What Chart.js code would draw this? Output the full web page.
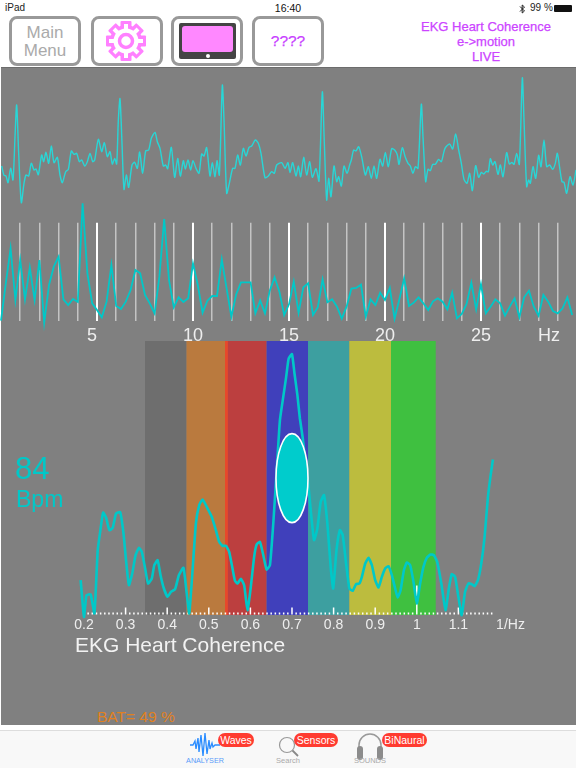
<!DOCTYPE html>
<html>
<head>
<meta charset="utf-8">
<title>EKG Heart Coherence</title>
<script src="https://cdn.jsdelivr.net/npm/chart.js@4"></script>
<style>
html, body { margin: 0; padding: 0; background: #fff; }
#page { position: relative; width: 576px; height: 768px; overflow: hidden; font-family: "Liberation Sans", sans-serif; }
#panel { position: absolute; left: 1px; top: 67px; width: 575px; height: 658px; background: #808080; border-top: 1px solid #6c6c6c; box-sizing: border-box; }
canvas { position: absolute; left: 0; }
.txt { position: absolute; white-space: nowrap; transform: translateY(-50%); line-height: 1; }
.mid { transform: translate(-50%, -50%); }
.med { -webkit-text-stroke: 0.25px currentColor; }
.btn { position: absolute; top: 16px; width: 72px; height: 50px; box-sizing: border-box; border: 3px solid #999; border-radius: 8px; background: #fff; }
.pill { position: absolute; top: 733px; height: 14px; line-height: 14px; border-radius: 7px; background: #ff3b30; color: #fff; font-size: 10.5px; text-align: center; }
#tabbar { position: absolute; left: 0; top: 730px; width: 576px; height: 38px; background: #f8f8f8; border-top: 1px solid #ddd; box-sizing: border-box; }
svg { position: absolute; overflow: visible; }
</style>
</head>
<body>
<div id="page">
  <div id="panel"></div>
  <canvas id="ekgChart" width="576" height="140" style="top:70px"></canvas>
  <canvas id="spectrumChart" width="576" height="150" style="top:200px"></canvas>
  <canvas id="coherenceChart" width="576" height="300" style="top:340px"></canvas>

  <span class="txt" style="left:5px;top:8px;font-size:10px;color:#222">iPad</span>
  <span class="txt mid" style="left:288px;top:8px;font-size:10.5px;color:#111">16:40</span>
  <svg style="left:519px;top:4px" width="7" height="10" viewBox="0 0 7 10"><path d="M1 2.5 L5.5 7 L3.2 9 V1 L5.5 3 L1 7.5" fill="none" stroke="#222" stroke-width="1"/></svg>
  <span class="txt" style="left:530px;top:8px;font-size:10px;color:#222">99 %</span>
  <div style="position:absolute;left:554px;top:5px;width:18px;height:7px;background:#111;border-radius:1px"></div>

  <div class="btn" style="left:9px"></div>
  <span class="txt mid" style="left:45px;top:32px;font-size:17px;color:#aaa">Main</span>
  <span class="txt mid" style="left:45px;top:50px;font-size:17px;color:#aaa">Menu</span>
  <div class="btn" style="left:90.5px"></div>
  <svg style="left:126px;top:41px" width="1" height="1">
    <g fill="#ff80ff">
      <rect x="-5.5" y="-20" width="11" height="40" rx="1"/><rect x="-5.5" y="-20" width="11" height="40" rx="1" transform="rotate(45)"/>
      <rect x="-5.5" y="-20" width="11" height="40" rx="1" transform="rotate(90)"/><rect x="-5.5" y="-20" width="11" height="40" rx="1" transform="rotate(135)"/>
      <circle r="16"/>
    </g>
    <g fill="#fff">
      <rect x="-2" y="-17" width="4" height="34"/><rect x="-2" y="-17" width="4" height="34" transform="rotate(45)"/>
      <rect x="-2" y="-17" width="4" height="34" transform="rotate(90)"/><rect x="-2" y="-17" width="4" height="34" transform="rotate(135)"/>
      <circle r="12.5"/>
    </g>
    <circle r="6.5" fill="#fff" stroke="#ff80ff" stroke-width="3.5"/>
  </svg>
  <div class="btn" style="left:171px"></div>
  <div style="position:absolute;left:179px;top:23px;width:57px;height:36px;background:#444;border-radius:2px"></div>
  <div style="position:absolute;left:182px;top:26px;width:51px;height:26px;background:#ff88ff;border-radius:3px"></div>
  <div style="position:absolute;left:205.5px;top:53.5px;width:4px;height:4px;background:#fff;border-radius:50%"></div>
  <div class="btn" style="left:252px"></div>
  <span class="txt mid med" style="left:288px;top:41px;font-size:15.5px;color:#c840ff">????</span>

  <span class="txt mid med" style="left:486px;top:26px;font-size:13px;color:#cc44ff">EKG Heart Coherence</span>
  <span class="txt mid med" style="left:486px;top:41px;font-size:13px;color:#cc44ff">e-&gt;motion</span>
  <span class="txt mid med" style="left:486px;top:56px;font-size:13px;color:#cc44ff">LIVE</span>

  <span class="txt mid" style="left:549px;top:335px;font-size:18px;color:#eee">Hz</span>
  <span class="txt mid" style="left:510.5px;top:624px;font-size:14px;color:#eee">1/Hz</span>
  <span class="txt" style="left:15px;top:468px;font-size:31px;color:#00c8c8">84</span>
  <span class="txt" style="left:16px;top:499px;font-size:23px;color:#00c8c8">Bpm</span>
  <span class="txt" style="left:75px;top:644px;font-size:21px;color:#f2f2f2">EKG Heart Coherence</span>
  <span class="txt" style="left:97px;top:717px;font-size:15.5px;color:#e08020">BAT= 49 %</span>

  <div id="tabbar"></div>
  <svg style="left:190px;top:732px" width="30" height="26" viewBox="0 0 30 26"><polyline points="0,13 3,13 5,9 6,17 8,6 9,20 11,3 13,24 15,1 17,22 19,8 20,17 22,11 23,15 25,13 30,13" fill="none" stroke="#2a8cff" stroke-width="1.3"/></svg>
  <div class="pill" style="left:218px;width:36px">Waves</div>
  <span class="txt mid" style="left:205px;top:761px;font-size:7.2px;color:#5a9cf8">ANALYSER</span>
  <svg style="left:277px;top:735px" width="22" height="24"><circle cx="10" cy="10" r="7.5" fill="none" stroke="#999" stroke-width="1.2"/><line x1="15.5" y1="15.5" x2="21" y2="21" stroke="#888" stroke-width="1.8"/></svg>
  <div class="pill" style="left:294px;width:44px">Sensors</div>
  <span class="txt mid" style="left:288px;top:761px;font-size:7.5px;color:#aaa">Search</span>
  <svg style="left:356px;top:733px" width="28" height="28"><path d="M3 15 V12 A11 11 0 0 1 25 12 V15" fill="none" stroke="#999" stroke-width="1.5"/><rect x="1" y="13" width="6" height="14" rx="3" fill="#8c8c8c"/><rect x="21" y="13" width="6" height="14" rx="3" fill="#8c8c8c"/></svg>
  <div class="pill" style="left:382px;width:45px">BiNaural</div>
  <span class="txt mid" style="left:370px;top:761px;font-size:7.5px;color:#aaa">SOUNDS</span>
</div>

<script>
// EKG trace, sample number / amplitude
const ekgSamples = [5,12,18,24,32,39,45,50,56,64,72,78,86,94,102,108,115,125,131,138,146,154,162,172,180,187,197,205,214,222,230,238,245,254,262,270,278,284,295,305,313,322,330,337,344,350,355,360,366,372,379,386,396,404,412,419,428,437,446,454,465,472,480,490,497,503,514,524,533,541,550,556,564,572,579,588,597,605,612,620,630,637,645,651,658,667,672,680,688,698,705,713,721,730,738,747,755,766,775,783,795,805,815,823,830,845,855,864,
  870,878,888,895,902,911,920,929,937,948,957,967,973,980,986,993,1002,1010,1016,1024,1032,1041,1049,1054,1061,1068,1076,1086,1096,1105,1114,1122,1130,1140,1148,1156,1165,1175,1184,1192,1197,1207,1216,1224,1231,1239,1246,1254,1264,1269,1277,1284,1291,1298,1306,1316,1324,1335,1349,1358,1367,1376,1384,1392,1401,1409,1417,1427,1436,1444,1451,1459,1465,1471,1478,1485,1494,1501,1509,1520,1528,1536,1542,1550,1558,1567,1572,1580,1586,1591,1599,1607,1616,1623,1632,1640,1649,1658,1666,1672,1680,1686,1692,1700,1710,1719,1728];
const ekgValues = [132,104,102,82,125,90,220,315,170,22,80,105,102,140,120,123,106,165,145,173,140,192,142,158,105,82,115,122,177,167,170,145,150,132,145,170,145,150,212,175,202,160,175,138,155,138,270,334,200,62,105,68,135,143,125,174,110,177,180,215,233,205,185,132,135,124,188,98,155,102,148,123,150,120,148,125,110,168,162,187,102,142,100,148,105,374,270,50,80,125,125,165,135,185,162,188,192,210,200,170,97,102,115,110,135,142,125,142,
  112,142,102,132,100,158,105,145,98,124,87,354,200,30,95,40,132,85,100,72,132,110,135,150,180,177,190,155,105,130,95,132,95,152,132,173,130,184,180,165,137,187,158,140,132,110,130,125,317,220,85,122,118,137,137,152,145,185,198,183,228,180,140,92,80,110,58,133,98,113,108,116,115,154,135,145,107,135,100,172,138,143,137,170,137,396,270,70,90,80,130,95,164,130,210,130,135,122,140,170,120,85,83,50,100,75,120];

// Spectrum, one value every 0.25 Hz
const spectrumFreqs = [0,0.25,0.5,0.75,1,1.25,1.5,1.75,2,2.25,2.5,2.75,3,3.25,3.5,3.75,4,4.25,4.5,4.75,5,5.25,5.5,5.75,6,6.25,6.5,6.75,7,7.25,7.5,7.75,8,8.25,8.5,8.75,9,9.25,9.5,9.75,10,10.25,10.5,10.75,11,11.25,11.5,11.75,12,12.25,12.5,12.75,13,13.25,13.5,13.75,14,14.25,14.5,14.75,15,15.25,15.5,15.75,16,16.25,16.5,16.75,17,17.25,17.5,17.75,18,18.25,18.5,18.75,19,19.25,19.5,19.75,20,20.25,20.5,20.75,21,21.25,21.5,21.75,22,22.25,22.5,22.75,23,23.25,23.5,23.75,24,24.25,24.5,24.75,25,25.25,25.5,25.75,26,26.25,26.5,26.75,27,27.25,27.5,27.75,28,28.25,28.5,28.75,29,29.25,29.5,29.75];
const spectrumValues = [2,114,219,64,184,66,161,64,184,-4,109,164,194,66,49,67,58,354,144,54,34,12,59,169,46,37,59,94,154,144,79,54,24,134,307,124,42,72,58,69,174,109,26,62,76,76,186,99,14,81,117,117,117,24,62,24,92,132,89,19,51,119,26,102,114,19,42,126,57,66,44,8,44,98,100,110,14,66,49,86,64,100,8,66,129,46,56,72,54,34,60,69,59,36,86,9,22,52,116,36,112,24,44,66,54,17,44,69,12,72,92,44,17,79,59,31,24,39,72,19];
const spectrumTicks = [1,2,3,4,5,6,7,8,9,10,11,12,13,14,15,16,17,18,19,20,21,22,23,24,25,26,27,28,29];

// Coherence curve
const coherenceFreqs = [0.192,0.2,0.206,0.216,0.225,0.233,0.24,0.246,0.253,0.261,0.269,0.277,0.287,0.295,0.301,0.308,0.316,0.324,0.332,0.339,0.347,0.354,0.363,0.369,0.377,0.384,0.392,0.401,0.409,0.419,0.428,0.439,0.447,0.453,0.461,0.469,0.477,0.485,0.495,0.507,0.517,0.525,0.533,0.541,0.549,0.557,0.563,0.569,0.577,0.585,0.593,0.601,0.609,0.615,0.623,0.631,0.639,0.647,0.655,0.663,0.671,0.679,0.686,0.692,0.7,0.706,0.713,0.719,0.726,0.732,0.739,0.745,0.753,0.761,0.769,0.777,0.785,0.793,0.799,0.807,0.815,0.822,0.83,0.838,0.846,0.854,0.862,0.868,0.876,0.884,0.892,0.9,0.908,0.916,0.924,0.932,0.94,0.948,0.954,0.961,0.969,0.976,0.984,0.992,1,1.008,1.016,1.024,1.033,1.041,1.049,1.059,1.069,1.077,1.084,1.092,1.1,1.108,1.116,1.124,1.132,1.139,1.147,1.155,1.163,1.171,1.177,1.183];
const coherenceValues = [103,-7,58,60,3,193,258,306,291,253,260,303,307,243,163,88,123,178,200,188,138,93,108,148,163,118,78,53,68,76,118,140,63,3,133,273,328,345,323,293,253,218,206,206,188,138,101,93,107,88,13,83,173,210,218,178,135,148,273,428,583,653,713,768,781,723,658,588,528,458,393,313,223,258,338,358,273,143,78,193,253,238,153,78,71,91,93,113,153,170,148,103,81,113,138,145,118,78,51,73,133,156,148,98,33,93,143,170,180,178,158,93,13,78,121,113,53,-2,68,93,91,85,103,153,233,353,413,465];
const coherenceTicks = [0.2,0.3,0.4,0.5,0.6,0.7,0.8,0.9,1,1.1];
const bandStarts = [0.3466,0.4464,0.539,0.546,0.639,0.7385,0.8378,0.938];
const bandEnds = [0.4464,0.539,0.546,0.639,0.7385,0.8378,0.938,1.0455];
const bandColors = ['#6e6e6e','#ba7a3e','#e8482a','#bc3f3f','#4040bb','#3d9fa0','#bcbc3e','#3fc040'];
const markerFreq = 0.7;
const markerValue = 409;

const CYAN = '#00c8c8';
const FONT = 'Liberation Sans';

function xy(xs, ys) {
    return xs.map((x, i) => ({ x: x, y: ys[i] }));
}

// EKG strip on top
new Chart(document.getElementById('ekgChart'), {
    type: 'line',
    data: { datasets: [{ data: xy(ekgSamples, ekgValues), borderColor: '#28d6d6', borderWidth: 1.4, pointRadius: 0, tension: 0.25, clip: false }] },
    options: {
        responsive: false,
        animation: false,
        plugins: { legend: { display: false }, tooltip: { enabled: false } },
        scales: {
            x: { type: 'linear', display: false, min: 0, max: 1728 },
            y: { display: false, min: 0, max: 420 }
        }
    }
});

// Frequency spectrum, white lines every Hz
new Chart(document.getElementById('spectrumChart'), {
    type: 'line',
    data: { datasets: [{ data: xy(spectrumFreqs, spectrumValues), borderColor: CYAN, borderWidth: 1.8, pointRadius: 0, tension: 0, clip: false }] },
    options: {
        responsive: false,
        animation: false,
        layout: { padding: { left: 1, top: 22.67 } },
        plugins: { legend: { display: false }, tooltip: { enabled: false } },
        scales: {
            x: {
                type: 'linear',
                min: 0,
                max: 29.95,
                afterBuildTicks: axis => { axis.ticks = spectrumTicks.map(v => ({ value: v })); },
                afterFit: axis => { axis.height = 28.67; },
                border: { display: false },
                grid: {
                    drawTicks: false,
                    color: c => c.tick.value % 5 === 0 ? '#ffffff' : '#c4c4c4',
                    lineWidth: c => c.tick.value % 5 === 0 ? 2 : 1.5
                },
                ticks: {
                    autoSkip: false,
                    maxRotation: 0,
                    padding: 4,
                    color: '#eeeeee',
                    font: { family: FONT, size: 18 },
                    // the 5 sits a little left of its line in the app
                    callback: v => v === 5 ? '5  ' : (v % 5 === 0 ? String(v) : '')
                }
            },
            y: { display: false, min: 0, max: 296 }
        }
    }
});

// colour bands and axis marks under the curve, ellipse over it
const coherenceDecor = {
    id: 'coherenceDecor',
    beforeDatasetsDraw(chart) {
        const { ctx, chartArea, scales } = chart;
        const x = scales.x;
        ctx.save();
        bandStarts.forEach((start, i) => {
            const left = x.getPixelForValue(start);
            ctx.fillStyle = bandColors[i];
            ctx.fillRect(left, chartArea.top, x.getPixelForValue(bandEnds[i]) - left, chartArea.height + 0.5);
        });
        ctx.fillStyle = '#ffffff';
        for (let i = 20; i <= 118; i++) {
            const px = x.getPixelForValue(i / 100);
            let h = 2;
            if (i % 10 === 0) h = i === 100 ? 29 : 7;
            ctx.fillRect(px - 0.75, chartArea.bottom - h, 1.5, h);
        }
        ctx.restore();
    },
    afterDatasetsDraw(chart) {
        const { ctx, scales } = chart;
        ctx.save();
        ctx.beginPath();
        ctx.ellipse(scales.x.getPixelForValue(markerFreq), scales.y.getPixelForValue(markerValue), 16, 44.5, 0, 0, Math.PI * 2);
        ctx.fillStyle = '#00cccc';
        ctx.fill();
        ctx.lineWidth = 1.6;
        ctx.strokeStyle = '#ffffff';
        ctx.stroke();
        ctx.restore();
    }
};

new Chart(document.getElementById('coherenceChart'), {
    type: 'line',
    data: { datasets: [{ data: xy(coherenceFreqs, coherenceValues), borderColor: CYAN, borderWidth: 2.6, pointRadius: 0, tension: 0.15, clip: false }] },
    plugins: [coherenceDecor],
    options: {
        responsive: false,
        animation: false,
        layout: { padding: { top: 1 } },
        plugins: { legend: { display: false }, tooltip: { enabled: false } },
        scales: {
            x: {
                type: 'linear',
                min: -0.0019,
                max: 1.3827,
                afterBuildTicks: axis => { axis.ticks = coherenceTicks.map(v => ({ value: v })); },
                afterFit: axis => { axis.height = 25.5; },
                border: { display: false },
                grid: { display: false, drawTicks: false },
                ticks: {
                    autoSkip: false,
                    maxRotation: 0,
                    padding: 2,
                    color: '#eeeeee',
                    font: { family: FONT, size: 14 },
                    callback: v => String(v)
                }
            },
            y: { display: false, min: 0, max: 820.5 }
        }
    }
});
</script>
</body>
</html>
